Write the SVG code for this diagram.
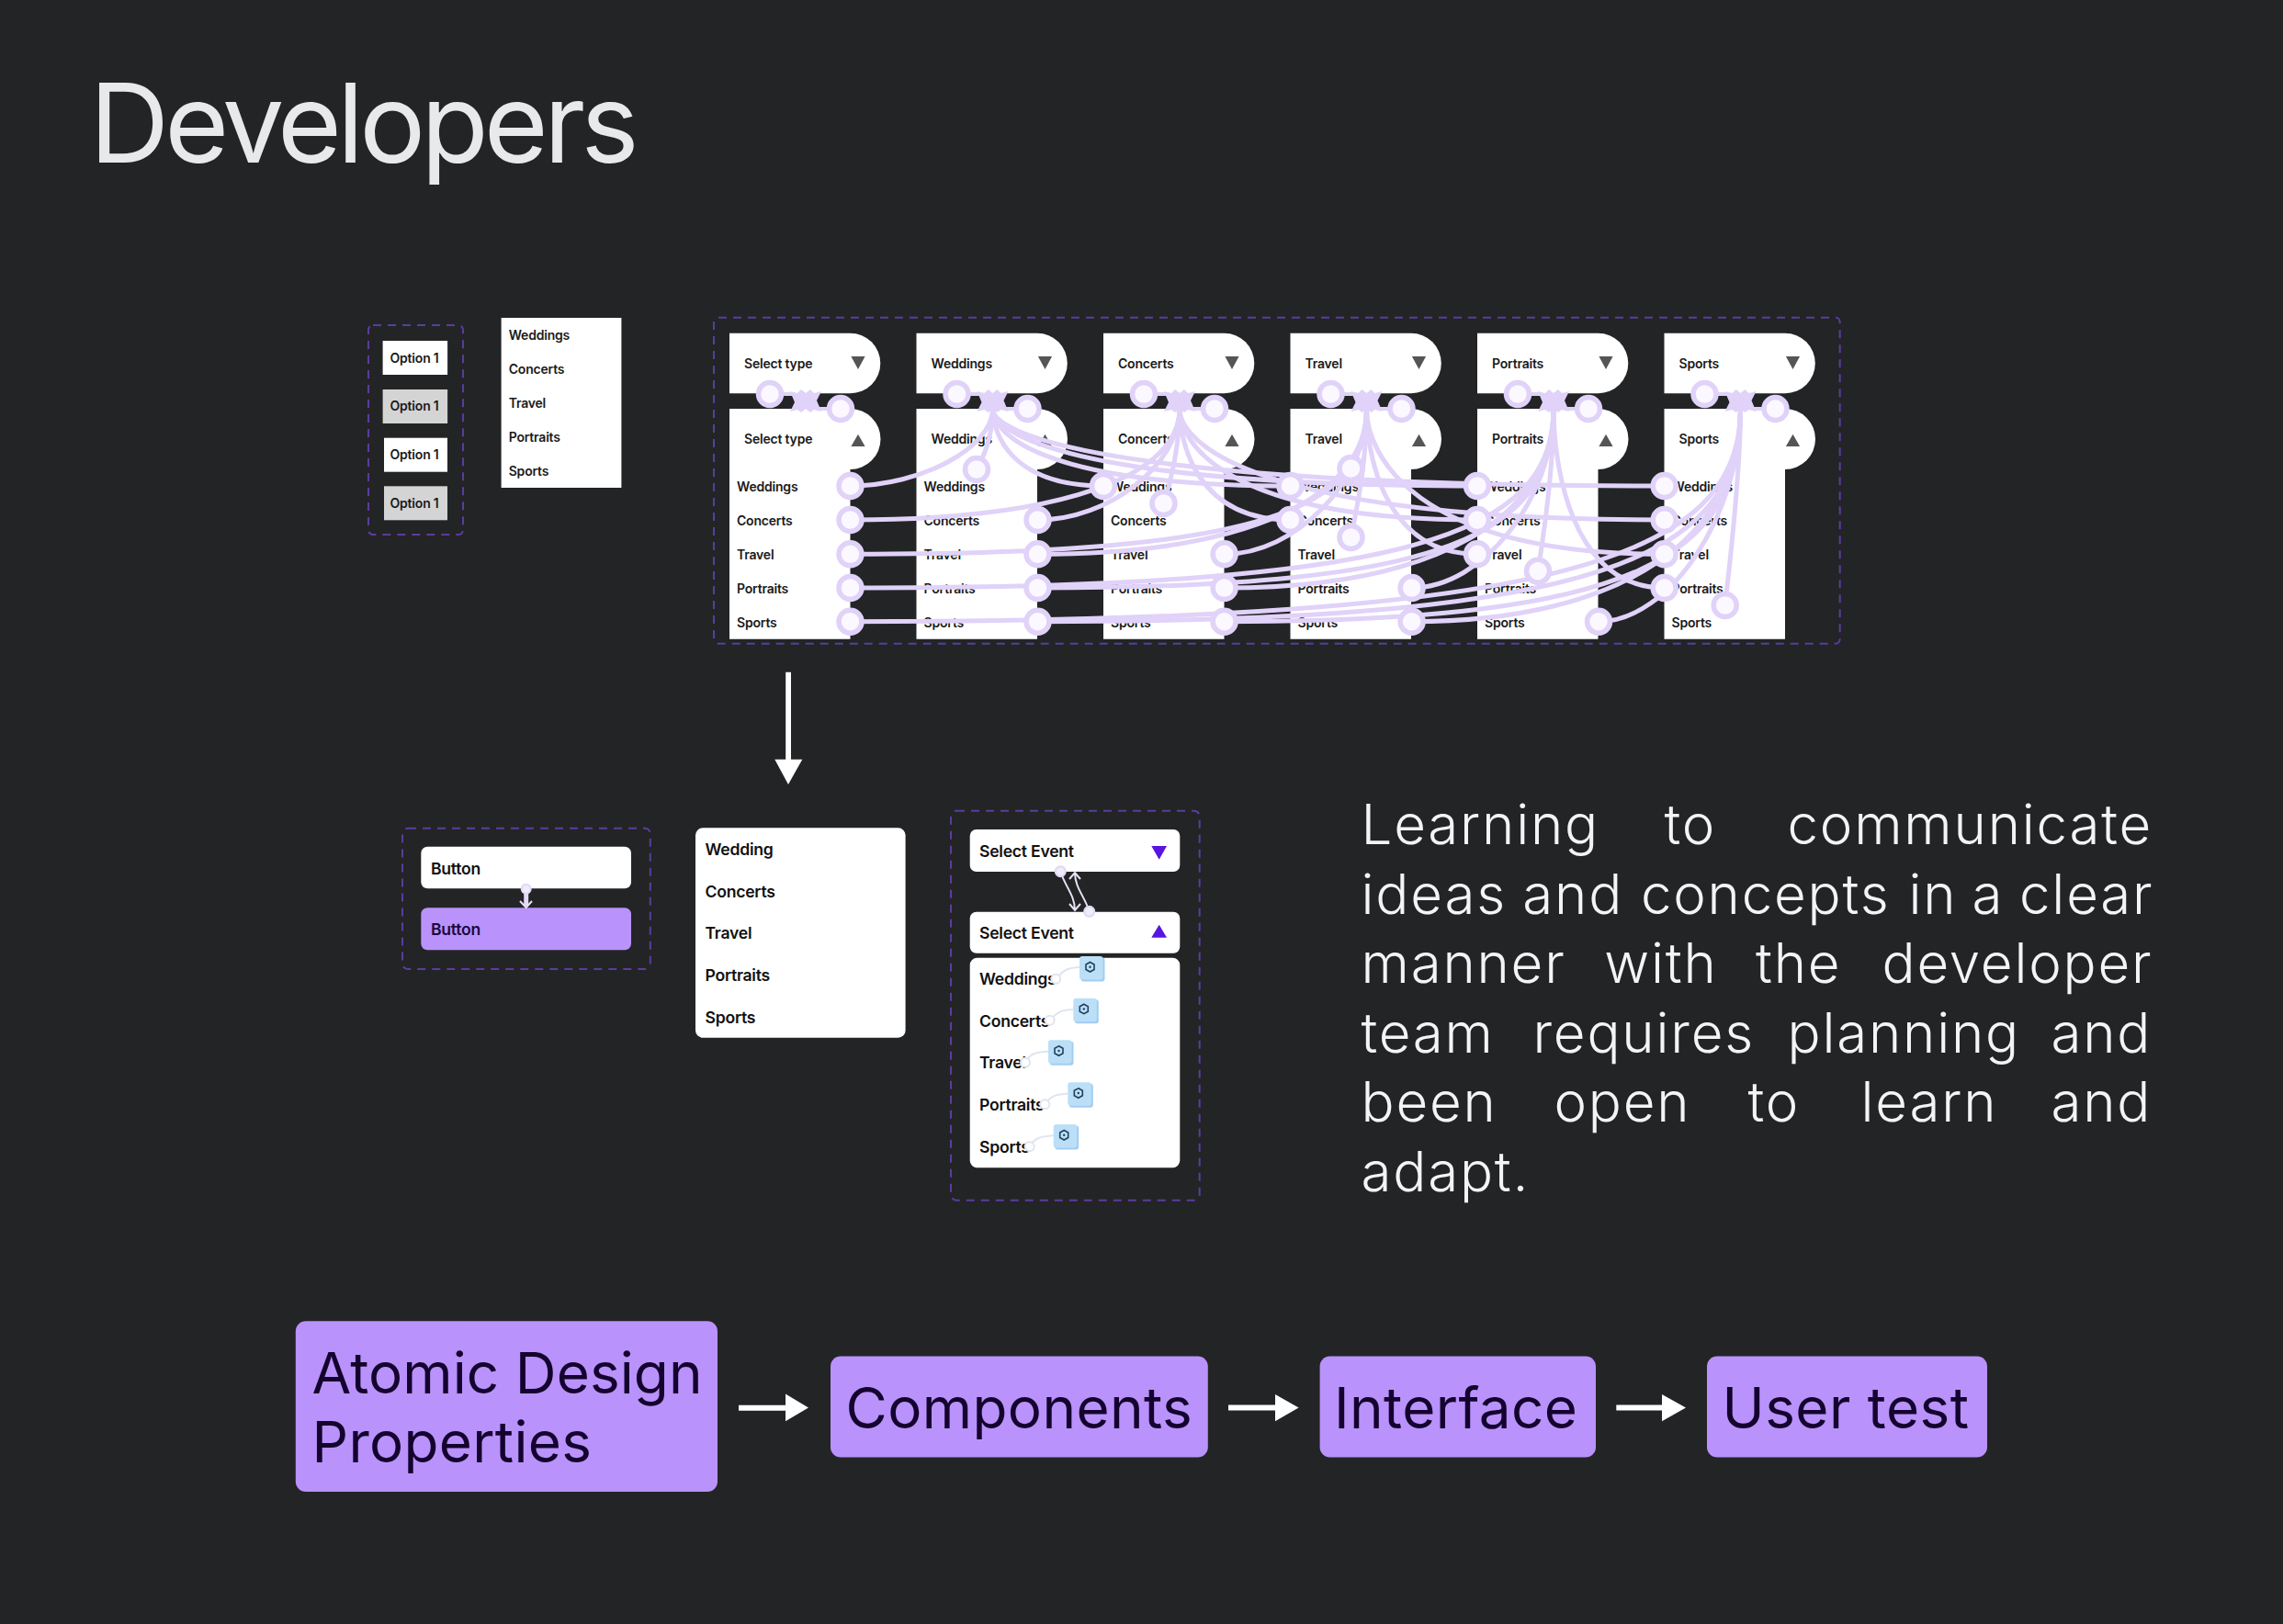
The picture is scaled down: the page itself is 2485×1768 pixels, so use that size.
<svg xmlns="http://www.w3.org/2000/svg" width="2485" height="1768" viewBox="0 0 2485 1768">
<style>
text{font-family:Inter,"Liberation Sans",sans-serif}
.dash{fill:none;stroke:#5a3d9e;stroke-width:2;stroke-dasharray:9 7}
.s{font-size:14px;font-weight:600;fill:#1a1a1a;letter-spacing:-.2px}
.m{font-size:17.6px;font-weight:600;fill:#111;letter-spacing:-.25px}
.big{font-size:60px;font-weight:350;fill:#f4f4f5;letter-spacing:1.8px}
.box{font-size:62px;font-weight:400;fill:#14032e}
.purple{fill:#b992fb}
.arrow{fill:#fff}
.n{fill:none;stroke:#e0d2f8;stroke-width:5}
.c{fill:#fbf9ff;stroke:#e0d2f8;stroke-width:5.5}
.hubfill{fill:#e0d2f8}
.hubline{fill:none;stroke:#e0d2f8;stroke-width:4}
.tri{fill:#555}
.v{fill:#5a14e2}
.thin{fill:none;stroke:#e8e2f4;stroke-width:2}
.dot{fill:#f0ebfa;stroke:#e0d8f2;stroke-width:2}
.lnk{fill:none;stroke:#dfe4ee;stroke-width:2}
.lnkc{fill:#fff;stroke:#dfe4ee;stroke-width:2}
.sq{fill:#bcdff8}
.sqs{fill:#a3cdf0}
.ic{fill:none;stroke:#21405f;stroke-width:1.6}
</style>
<defs>
<path id="head" d="M0 362.7H131.5A32.8 32.8 0 0 1 131.5 428.3H0Z" fill="#fff"/>
<path id="body" d="M0 445H131.5A33 33 0 0 1 131.5 511V695.7H0Z" fill="#fff"/>
<path id="down" class="tri" d="M132.4 388H147.6L140 402Z"/>
<path id="up" class="tri" d="M132.4 486H147.6L140 472.7Z"/>
<g id="hub">
<path class="hubfill" d="M-17 -11L-9 -9L-5 -13L0 -9L5 -13L9 -9L17 -11L12 -1L17 11L9 9L5 12L0 8L-5 12L-9 9L-17 11L-12 1Z"/>
<path class="hubline" d="M-39 -8H-14M38 8H14"/>
<circle class="c" cx="-39" cy="-8" r="12.5"/>
<circle class="c" cx="38" cy="8" r="12.5"/>
</g>
<g id="blue">
<rect class="sqs" x="1.5" y="1.5" width="26" height="26" rx="3"/>
<rect class="sq" width="25.5" height="25.5" rx="3"/>
<path class="ic" d="M11.5 6.5L16 9V14.5L11.5 17L7 14.5V9Z"/>
<circle cx="11.5" cy="11.7" r="1.2" fill="#21405f"/>
</g>
</defs>
<rect width="2485" height="1768" fill="#232426"/>
<text id="title" x="97.5" y="177" font-size="120" font-weight="400" fill="#e8e9ea" textLength="598">Developers</text>

<g id="options-group">
<rect class="dash" x="401" y="354" width="103" height="228" rx="5"/>
<rect x="416.6" y="371" width="70.5" height="37" fill="#fff"/><text class="s" x="424.5" y="394.5">Option 1</text>
<rect x="416.6" y="424" width="70.5" height="37" fill="#d4d4d4"/><text class="s" x="424.5" y="447">Option 1</text>
<rect x="418" y="476.7" width="69" height="37" fill="#fff"/><text class="s" x="424.5" y="500">Option 1</text>
<rect x="418" y="529.3" width="69" height="37" fill="#d4d4d4"/><text class="s" x="424.5" y="553">Option 1</text>
</g>
<g id="plain-list">
<rect x="545.6" y="346" width="130.8" height="185" fill="#fff"/>
<text class="s" x="553.7" y="370">Weddings</text>
<text class="s" x="553.7" y="407">Concerts</text>
<text class="s" x="553.7" y="444">Travel</text>
<text class="s" x="553.7" y="481">Portraits</text>
<text class="s" x="553.7" y="518">Sports</text>
</g>
<rect id="big-frame" class="dash" x="777" y="345.7" width="1225.7" height="355" rx="5"/>

<g id="col1" transform="translate(794)">
<use href="#head"/><use href="#body"/><use href="#down"/><use href="#up"/>
<text class="s" x="16" y="401">Select type</text><text class="s" x="16" y="483">Select type</text>
<text class="s" x="8" y="535">Weddings</text><text class="s" x="8" y="572">Concerts</text><text class="s" x="8" y="609">Travel</text><text class="s" x="8" y="646">Portraits</text><text class="s" x="8" y="682.5">Sports</text>
</g>
<g id="col2" transform="translate(997.5)">
<use href="#head"/><use href="#body"/><use href="#down"/><use href="#up"/>
<text class="s" x="16" y="401">Weddings</text><text class="s" x="16" y="483">Weddings</text>
<text class="s" x="8" y="535">Weddings</text><text class="s" x="8" y="572">Concerts</text><text class="s" x="8" y="609">Travel</text><text class="s" x="8" y="646">Portraits</text><text class="s" x="8" y="682.5">Sports</text>
</g>
<g id="col3" transform="translate(1201)">
<use href="#head"/><use href="#body"/><use href="#down"/><use href="#up"/>
<text class="s" x="16" y="401">Concerts</text><text class="s" x="16" y="483">Concerts</text>
<text class="s" x="8" y="535">Weddings</text><text class="s" x="8" y="572">Concerts</text><text class="s" x="8" y="609">Travel</text><text class="s" x="8" y="646">Portraits</text><text class="s" x="8" y="682.5">Sports</text>
</g>
<g id="col4" transform="translate(1404.5)">
<use href="#head"/><use href="#body"/><use href="#down"/><use href="#up"/>
<text class="s" x="16" y="401">Travel</text><text class="s" x="16" y="483">Travel</text>
<text class="s" x="8" y="535">Weddings</text><text class="s" x="8" y="572">Concerts</text><text class="s" x="8" y="609">Travel</text><text class="s" x="8" y="646">Portraits</text><text class="s" x="8" y="682.5">Sports</text>
</g>
<g id="col5" transform="translate(1608)">
<use href="#head"/><use href="#body"/><use href="#down"/><use href="#up"/>
<text class="s" x="16" y="401">Portraits</text><text class="s" x="16" y="483">Portraits</text>
<text class="s" x="8" y="535">Weddings</text><text class="s" x="8" y="572">Concerts</text><text class="s" x="8" y="609">Travel</text><text class="s" x="8" y="646">Portraits</text><text class="s" x="8" y="682.5">Sports</text>
</g>
<g id="col6" transform="translate(1811.5)">
<use href="#head"/><use href="#body"/><use href="#down"/><use href="#up"/>
<text class="s" x="16" y="401">Sports</text><text class="s" x="16" y="483">Sports</text>
<text class="s" x="8" y="535">Weddings</text><text class="s" x="8" y="572">Concerts</text><text class="s" x="8" y="609">Travel</text><text class="s" x="8" y="646">Portraits</text><text class="s" x="8" y="682.5">Sports</text>
</g>

<g id="connectors">
<g class="n">
<path d="M925.5 529C1003 529 1080.5 487 1080.5 445"/>
<path d="M925.5 566C1158.5 566 1284 517.6 1284 445"/>
<path d="M925.5 603.3C1375 603.3 1487.5 555.8 1487.5 445"/>
<path d="M925.5 640C1538 640 1691 581.5 1691 445"/>
<path d="M925.5 676.7C1701 676.7 1894.5 607.2 1894.5 445"/>
<path d="M1063 511C1075 490 1080.5 470 1080.5 445"/>
<path d="M1129.5 566C1207 566 1284 505.5 1284 445"/>
<path d="M1129.5 603.3C1362 603.3 1487.5 540 1487.5 445"/>
<path d="M1129.5 640C1578.7 640 1691 581.5 1691 445"/>
<path d="M1129.5 676.7C1741.5 676.7 1894.5 607.2 1894.5 445"/>
<path d="M1201 529C1098.6 529 1080.5 470 1080.5 445"/>
<path d="M1266.5 548C1276 520 1284 480 1284 445"/>
<path d="M1332.6 603.3C1410 603.3 1487.5 524 1487.5 445"/>
<path d="M1332.6 640C1565.6 640 1691 562 1691 445"/>
<path d="M1332.6 676.7C1782 676.7 1894.5 607.2 1894.5 445"/>
<path d="M1404.5 529C1129 529 1080.5 470 1080.5 445"/>
<path d="M1404.5 566C1302 566 1284 481 1284 445"/>
<path d="M1470.5 510C1480 490 1487.5 470 1487.5 445"/>
<path d="M1470.5 585C1482 530 1487.5 490 1487.5 445"/>
<path d="M1536.6 640C1613.8 640 1691 542.5 1691 445"/>
<path d="M1536.6 676.7C1769 676.7 1894.5 584 1894.5 445"/>
<path d="M1608 529C1159.6 529 1080.5 470 1080.5 445"/>
<path d="M1608 566C1332.6 566 1284 481 1284 445"/>
<path d="M1608 603.3C1505.6 603.3 1487.5 492.5 1487.5 445"/>
<path d="M1674 621.7C1684 560 1691 500 1691 445"/>
<path d="M1740 676.7C1817 676.7 1894.5 560.8 1894.5 445"/>
<path d="M1811.7 529C1190 529 1080.5 470 1080.5 445"/>
<path d="M1811.7 566C1363 566 1284 481 1284 445"/>
<path d="M1811.7 603.3C1536.3 603.3 1487.5 492.5 1487.5 445"/>
<path d="M1811.7 640C1709 640 1691 503.5 1691 445"/>
<path d="M1877.7 659C1888 570 1894.5 500 1894.5 445"/>
</g>
<use href="#hub" x="877" y="437"/><use href="#hub" x="1080.5" y="437"/><use href="#hub" x="1284" y="437"/><use href="#hub" x="1487.5" y="437"/><use href="#hub" x="1691" y="437"/><use href="#hub" x="1894.5" y="437"/>
<g class="c">
<circle cx="925.5" cy="529" r="12.5"/><circle cx="925.5" cy="566" r="12.5"/><circle cx="925.5" cy="603.3" r="12.5"/><circle cx="925.5" cy="640" r="12.5"/><circle cx="925.5" cy="676.7" r="12.5"/>
<circle cx="1063" cy="511" r="12.5"/><circle cx="1129.5" cy="566" r="12.5"/><circle cx="1129.5" cy="603.3" r="12.5"/><circle cx="1129.5" cy="640" r="12.5"/><circle cx="1129.5" cy="676.7" r="12.5"/>
<circle cx="1201" cy="529" r="12.5"/><circle cx="1266.5" cy="548" r="12.5"/><circle cx="1332.6" cy="603.3" r="12.5"/><circle cx="1332.6" cy="640" r="12.5"/><circle cx="1332.6" cy="676.7" r="12.5"/>
<circle cx="1404.5" cy="529" r="12.5"/><circle cx="1404.5" cy="566" r="12.5"/><circle cx="1470.5" cy="510" r="12.5"/><circle cx="1470.5" cy="585" r="12.5"/><circle cx="1536.6" cy="640" r="12.5"/><circle cx="1536.6" cy="676.7" r="12.5"/>
<circle cx="1608" cy="529" r="12.5"/><circle cx="1608" cy="566" r="12.5"/><circle cx="1608" cy="603.3" r="12.5"/><circle cx="1674" cy="621.7" r="12.5"/><circle cx="1740" cy="676.7" r="12.5"/>
<circle cx="1811.7" cy="529" r="12.5"/><circle cx="1811.7" cy="566" r="12.5"/><circle cx="1811.7" cy="603.3" r="12.5"/><circle cx="1811.7" cy="640" r="12.5"/><circle cx="1877.7" cy="659" r="12.5"/>
</g>
<path class="arrow" d="M855.2 731.7H861V826.7H873.3L858 854L843.3 826.7H855.2Z"/>
<path class="arrow" d="M804 1529.8H855V1517.5L880 1532.5L855 1547.2V1535.8H804Z"/>
<path class="arrow" d="M1337 1529.5H1388V1518L1413.6 1532.5L1388 1547.2V1535.5H1337Z"/>
<path class="arrow" d="M1759.3 1529.5H1809V1518L1835 1532.5L1809 1547.2V1535.5H1759.3Z"/>
</g>

<g id="button-group">
<rect class="dash" x="438" y="901.7" width="269.8" height="153.3" rx="6"/>
<rect x="458.3" y="921.7" width="228.7" height="45.6" rx="7" fill="#fff"/>
<rect class="purple" x="458.3" y="988.3" width="228.7" height="46" rx="7"/>
<text class="m" x="469" y="951.5">Button</text>
<text class="m" x="469" y="1018" style="fill:#1c0840">Button</text>
<path d="M572.7 968V986" fill="none" stroke="#e4daf8" stroke-width="5"/>
<path class="thin" d="M566 981L572.7 988L579 981"/>
<circle class="dot" cx="572.7" cy="967.7" r="5"/>
</g>
<g id="wedding-list">
<rect x="757" y="901.3" width="228.6" height="228.4" rx="8" fill="#fff"/>
<text class="m" x="767.5" y="930.5">Wedding</text>
<text class="m" x="767.5" y="976.5">Concerts</text>
<text class="m" x="767.5" y="1022">Travel</text>
<text class="m" x="767.5" y="1068">Portraits</text>
<text class="m" x="767.5" y="1113.7">Sports</text>
</g>
<g id="event-group">
<rect class="dash" x="1035" y="882.7" width="270.7" height="424" rx="6"/>
<rect x="1055.7" y="903" width="228.6" height="46" rx="7" fill="#fff"/>
<rect x="1055.7" y="992.7" width="228.6" height="45" rx="7" fill="#fff"/>
<rect x="1055.7" y="1042.7" width="228.6" height="228.6" rx="8" fill="#fff"/>
<text class="m" x="1066" y="932.5">Select Event</text>
<text class="m" x="1066" y="1021.8">Select Event</text>
<path class="v" d="M1253.3 921H1270L1261.7 935.7Z"/>
<path class="v" d="M1253.3 1020.7H1270L1261.7 1006.7Z"/>
<text class="m" x="1066" y="1071.5">Weddings</text>
<text class="m" x="1066" y="1117.5">Concerts</text>
<text class="m" x="1066" y="1163">Travel</text>
<text class="m" x="1066" y="1209">Portraits</text>
<text class="m" x="1066" y="1254.5">Sports</text>
<path class="thin" d="M1154.3 949C1160 966 1170 975 1170 991M1164 984L1170 991L1176 984M1185.7 992C1180 975 1170 966 1170 950M1164 957L1170 950L1176 957"/>
<circle class="dot" cx="1154.3" cy="948.7" r="5.5"/>
<circle class="dot" cx="1185.7" cy="992.3" r="5.5"/>
<path class="lnk" d="M1149.3 1065.7C1160 1053 1165 1054 1175 1053M1142.7 1110.7C1153 1099 1158 1100 1168.3 1099M1116 1156.7C1122 1145 1130 1146 1141 1144.5M1137.3 1202.3C1145 1191 1152 1192 1162.3 1190.5M1120.7 1248.3C1128 1236 1136 1238 1146.7 1236"/>
<g class="lnkc">
<circle cx="1149.3" cy="1065.7" r="5"/><circle cx="1142.7" cy="1110.7" r="5"/><circle cx="1116" cy="1156.7" r="5"/><circle cx="1137.3" cy="1202.3" r="5"/><circle cx="1120.7" cy="1248.3" r="5"/>
</g>
<use href="#blue" x="1175" y="1041"/><use href="#blue" x="1168.3" y="1086.7"/><use href="#blue" x="1141" y="1132.3"/><use href="#blue" x="1162.3" y="1178.3"/><use href="#blue" x="1146.7" y="1224"/>
</g>

<g id="paragraph" transform="translate(-2.5 0)">
<text class="big" x="1484" y="919.3">Learning</text><text class="big" x="1814" y="919.3">to</text><text class="big" x="1948" y="919.3">communicate</text>
<text class="big" x="1484" y="994.7">ideas</text><text class="big" x="1659.8" y="994.7">and</text><text class="big" x="1788.4" y="994.7">concepts</text><text class="big" x="2080" y="994.7">in</text><text class="big" x="2149" y="994.7">a</text><text class="big" x="2200.5" y="994.7">clear</text>
<text class="big" x="1484" y="1070">manner</text><text class="big" x="1748.8" y="1070">with</text><text class="big" x="1913.5" y="1070">the</text><text class="big" x="2051" y="1070">developer</text>
<text class="big" x="1484" y="1145.7">team</text><text class="big" x="1671" y="1145.7">requires</text><text class="big" x="1948" y="1145.7">planning</text><text class="big" x="2235" y="1145.7">and</text>
<text class="big" x="1484" y="1221">been</text><text class="big" x="1694" y="1221">open</text><text class="big" x="1905" y="1221">to</text><text class="big" x="2028" y="1221">learn</text><text class="big" x="2235" y="1221">and</text>
<text class="big" x="1484" y="1296.7">adapt.</text>
</g>

<g id="atomic"><rect class="purple" x="321.8" y="1438.3" width="459.2" height="185.7" rx="11"/><text class="box" x="339.5" y="1516.5" letter-spacing=".1">Atomic Design</text><text class="box" x="339.5" y="1592" letter-spacing=".3">Properties</text></g>
<g id="components"><rect class="purple" x="904" y="1476.5" width="410.8" height="110" rx="11"/><text class="box" x="920.5" y="1555" letter-spacing=".4">Components</text></g>
<g id="interface"><rect class="purple" x="1436.6" y="1476.5" width="300.4" height="110" rx="11"/><text class="box" x="1452" y="1555" letter-spacing=".4">Interface</text></g>
<g id="user-test"><rect class="purple" x="1858" y="1476.5" width="305" height="110" rx="11"/><text class="box" x="1874.5" y="1555" letter-spacing=".5">User test</text></g>
</svg>
